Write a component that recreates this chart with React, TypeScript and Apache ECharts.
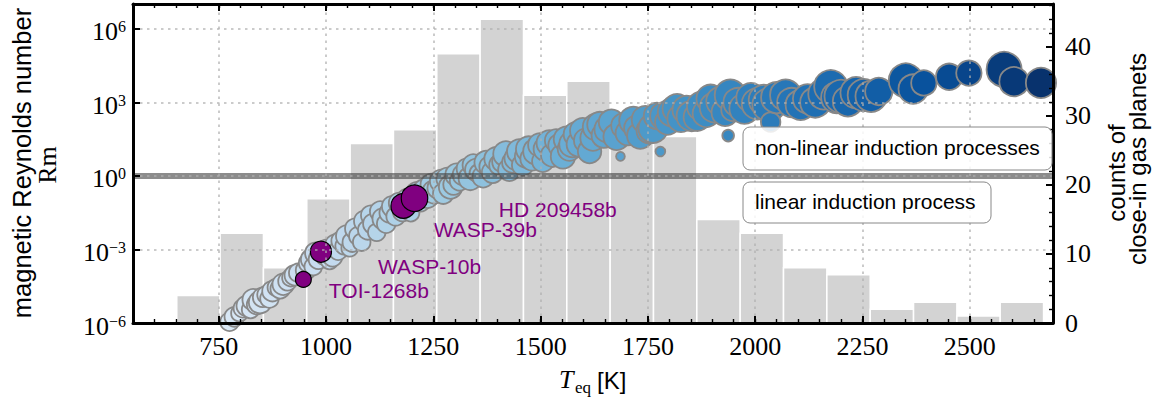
import React, { useEffect, useRef } from 'react';
import * as echarts from 'echarts';

// ---------- data ----------
// histogram of close-in gas planets (right axis)
const binEdges = [652, 753, 854, 955, 1056, 1157, 1258, 1359, 1460, 1561, 1662, 1763, 1864, 1965, 2066, 2167, 2268, 2369, 2470, 2571, 2672];
const binCounts = [4, 13, 8, 18, 26, 28, 39, 44, 33, 35, 29, 27, 15, 13, 8, 7, 2, 3, 1, 3];

// planets: [Teq (K), log10(Rm), radius (R_J)]
const planets: [number, number, number][] = [
  [775, -5.95, 0.95], [786, -5.75, 1.0], [798, -5.6, 0.85], [806, -5.4, 0.95], [815, -5.3, 1.05],
  [824, -5.45, 0.9], [830, -5.05, 1.1], [838, -5.25, 1.0], [846, -5.15, 1.15], [852, -4.95, 1.0],
  [860, -4.85, 0.9], [868, -5.0, 0.95], [875, -4.7, 1.05], [884, -4.55, 0.9], [893, -4.6, 1.0],
  [900, -4.42, 1.1], [910, -4.3, 0.95], [918, -4.15, 0.9], [927, -4.05, 1.05], [935, -3.95, 0.95],
  [952, -3.85, 1.0], [958, -3.55, 0.95], [965, -3.4, 1.05], [970, -3.7, 0.9], [976, -3.15, 1.1],
  [982, -3.4, 1.0], [996, -3.25, 0.95], [1002, -3.05, 1.15], [1008, -3.45, 0.9], [1015, -3.3, 1.0],
  [1022, -2.8, 1.05], [1028, -3.05, 0.95], [1035, -2.65, 1.0], [1042, -2.85, 0.9], [1048, -2.45, 1.1],
  [1055, -2.95, 0.85], [1061, -2.7, 1.0], [1068, -2.15, 1.05], [1075, -2.45, 0.95], [1083, -2.7, 0.9],
  [1090, -1.85, 1.1], [1097, -2.2, 1.0], [1104, -1.6, 1.0], [1110, -1.95, 1.05], [1118, -2.3, 0.9],
  [1126, -1.45, 1.05], [1133, -1.75, 1.1], [1140, -1.95, 0.95], [1147, -1.5, 1.0], [1155, -1.25, 1.1],
  [1162, -1.65, 0.95], [1170, -1.1, 1.05], [1178, -1.45, 1.0], [1190, -0.95, 1.1], [1197, -1.5, 0.9],
  [1212, -0.7, 1.15], [1220, -1.05, 1.0], [1228, -0.55, 1.05], [1236, -0.85, 1.15], [1245, -0.35, 1.1],
  [1252, -0.65, 1.2], [1260, -0.5, 1.05], [1268, -0.2, 1.15], [1273, -0.72, 1.05], [1282, -0.1, 1.1],
  [1290, -0.45, 1.2], [1297, -0.35, 1.05], [1304, 0.05, 1.15], [1311, -0.2, 1.0], [1320, 0.05, 1.1],
  [1328, 0.3, 1.05], [1336, -0.1, 1.2], [1343, 0.45, 1.1], [1350, 0.25, 1.15], [1357, 0.1, 1.0],
  [1366, -0.03, 1.1], [1373, 0.55, 1.2], [1381, 0.38, 1.05], [1388, 0.15, 1.1], [1396, 0.7, 1.2],
  [1404, 0.45, 1.05], [1412, 0.58, 1.1], [1419, 0.9, 1.3], [1427, 0.25, 1.15], [1434, 0.55, 1.05],
  [1443, 0.72, 1.2], [1450, 1.0, 1.25], [1458, 0.45, 1.1], [1466, 0.8, 1.15], [1472, 1.1, 1.3],
  [1480, 0.7, 1.2], [1490, 1.0, 1.35], [1498, 1.27, 1.2], [1505, 0.6, 1.1], [1512, 1.1, 1.25],
  [1520, 1.35, 1.3], [1528, 0.85, 1.2], [1536, 1.45, 1.15], [1545, 1.25, 1.2], [1552, 0.8, 1.25],
  [1560, 1.5, 1.3], [1567, 1.1, 1.2], [1574, 1.3, 1.35], [1582, 1.7, 1.25], [1590, 1.3, 1.3],
  [1598, 1.85, 1.3], [1606, 1.45, 1.25], [1614, 1.0, 1.2], [1622, 1.55, 1.3], [1630, 2.0, 1.4],
  [1638, 2.1, 1.3], [1647, 1.65, 1.25], [1656, 1.9, 1.35], [1665, 2.2, 1.3], [1677, 1.6, 1.35],
  [1686, 0.8, 0.45], [1694, 2.05, 1.3], [1703, 1.75, 1.25], [1716, 2.25, 1.45], [1724, 1.95, 1.3],
  [1732, 1.65, 1.35], [1744, 2.3, 1.4], [1753, 1.85, 1.3], [1762, 1.95, 1.5], [1771, 2.45, 1.35],
  [1779, 1.0, 0.5], [1787, 2.45, 1.4], [1796, 2.2, 1.3], [1806, 2.6, 1.45], [1818, 2.75, 1.5],
  [1827, 2.35, 1.4], [1840, 2.7, 1.45], [1852, 2.45, 1.55], [1865, 2.4, 1.4], [1875, 2.85, 1.5],
  [1886, 2.55, 1.4], [1896, 3.15, 1.45], [1906, 2.8, 1.55], [1920, 3.05, 1.5], [1930, 2.6, 1.4],
  [1937, 1.65, 0.6], [1942, 3.3, 1.6], [1947, 2.7, 1.15], [1960, 3.0, 1.5], [1975, 2.75, 1.55],
  [1990, 3.2, 1.5], [2005, 2.95, 1.6], [2020, 3.1, 1.55], [2032, 2.9, 1.7], [2036, 2.2, 1.0],
  [2050, 3.2, 1.6], [2071, 3.3, 1.6], [2085, 3.0, 1.5], [2106, 2.9, 1.55], [2122, 3.15, 1.5],
  [2140, 3.0, 1.55], [2160, 3.35, 1.6], [2176, 3.65, 1.7], [2190, 3.2, 1.6], [2200, 3.25, 1.7],
  [2216, 3.05, 1.55], [2235, 3.4, 1.6], [2253, 3.3, 1.65], [2270, 3.25, 1.6], [2288, 3.45, 1.4],
  [2351, 3.9, 1.75], [2368, 3.55, 1.5], [2393, 3.8, 1.3], [2452, 4.05, 1.35], [2498, 4.2, 1.3],
  [2580, 4.35, 1.8], [2603, 3.85, 1.5], [2666, 3.8, 1.55],
];

// highlighted planets
const hlNames = ['TOI-1268b', 'WASP-10b', 'WASP-39b', 'HD 209458b'];
const hlTeq = [947, 988, 1180, 1206];
const hlLog10Rm = [-4.22, -3.09, -1.22, -0.91];
const hlRadius = [0.81, 1.08, 1.27, 1.36];

// ticks
const xTicks = [750, 1000, 1250, 1500, 1750, 2000, 2250, 2500];
const yGridExponents = [-3, 0, 3, 6];
const X_MIN = 550;
const X_MAX = 2694;
const Y_MIN = -6;
const Y_MAX = 7.02;
const C_MAX = 46.2;
const RM_THRESHOLD_LOG = 0;

const BLUES = ['#f7fbff', '#deebf7', '#c6dbef', '#9ecae1', '#6baed6', '#4292c6', '#2171b5', '#08519c', '#08306b'];

const SERIF = '"Liberation Serif", "Times New Roman", serif';
const SANS = '"Liberation Sans", Arial, sans-serif';
const PX_PER_RJ = 19.5;

const spine = { show: true, onZero: false, lineStyle: { color: '#000', width: 3 } };
const majorTick = { show: true, inside: true, length: 7, lineStyle: { color: '#000', width: 2 } };
const minorTickStyle = { show: true, inside: true, length: 4, lineStyle: { color: '#000', width: 1.4 } };

function buildOption(): any {
  const labelOffsets = [[17, 11], [46, 14.5], [17.5, 24], [70.5, 11.7]];
  return {
    animation: false,
    backgroundColor: '#ffffff',
    grid: { left: 133, right: 102, top: 4, bottom: 78, containLabel: false },
    xAxis: [
      {
        type: 'value', position: 'bottom', min: X_MIN, max: X_MAX, z: 6,
        axisLine: spine,
        axisTick: { ...majorTick, customValues: xTicks },
        axisLabel: { customValues: xTicks, margin: 10, color: '#000', fontSize: 26, fontFamily: SERIF, formatter: (v: number) => String(v) },
        splitLine: { show: false },
      },
      {
        type: 'value', position: 'bottom', min: X_MIN, max: X_MAX, interval: 50, z: 6,
        axisLine: { show: false, onZero: false },
        axisTick: minorTickStyle,
        axisLabel: { show: false },
        splitLine: { show: false },
      },
      {
        type: 'value', position: 'top', min: X_MIN, max: X_MAX, z: 6,
        axisLine: spine,
        axisTick: { ...majorTick, customValues: xTicks },
        axisLabel: { show: false, customValues: xTicks },
        splitLine: { show: false },
      },
      {
        type: 'value', position: 'top', min: X_MIN, max: X_MAX, interval: 50, z: 6,
        axisLine: { show: false, onZero: false },
        axisTick: minorTickStyle,
        axisLabel: { show: false },
        splitLine: { show: false },
      },
    ],
    yAxis: [
      {
        type: 'value', position: 'left', min: Y_MIN, max: Y_MAX, interval: 3, z: 6,
        axisLine: spine,
        axisTick: majorTick,
        axisLabel: {
          showMaxLabel: false,
          margin: 7,
          padding: [6, 0, 0, 0],
          formatter: (v: number) => `{b|10}{e|${v < 0 ? '\u2212' + Math.abs(v) : v}}`,
          rich: {
            b: { fontSize: 26, lineHeight: 26, fontFamily: SERIF, color: '#000' },
            e: { fontSize: 16, lineHeight: 16, fontFamily: SERIF, color: '#000', verticalAlign: 'top' },
          },
        },
        splitLine: { show: false },
      },
      {
        type: 'value', position: 'right', min: 0, max: C_MAX, interval: 10, z: 6,
        axisLine: spine,
        axisTick: majorTick,
        minorTick: { show: true, splitNumber: 5, length: 4, lineStyle: { color: '#000', width: 1.4 } },
        axisLabel: { showMaxLabel: false, margin: 12, padding: [6, 0, 0, 0], color: '#000', fontSize: 26, fontFamily: SERIF },
        splitLine: { show: false },
      },
    ],
    visualMap: {
      type: 'continuous', show: false, seriesIndex: 2, dimension: 0,
      min: 440, max: 2680, inRange: { color: BLUES },
    },
    series: [
      {
        type: 'custom', xAxisIndex: 0, yAxisIndex: 1, z: 1, silent: true,
        data: binCounts.map((c, i) => [binEdges[i], binEdges[i + 1], c]),
        encode: { x: [0, 1], y: 2 },
        renderItem: (_p: any, api: any) => {
          const a = api.coord([api.value(0), api.value(2)]);
          const b = api.coord([api.value(1), 0]);
          return {
            type: 'rect',
            shape: { x: a[0], y: a[1], width: b[0] - a[0], height: b[1] - a[1] },
            style: { fill: '#d3d3d3', stroke: '#ffffff', lineWidth: 1.5 },
          };
        },
      },
      {
        type: 'line', xAxisIndex: 0, yAxisIndex: 0, z: 2, data: [], silent: true,
        markLine: {
          silent: true, symbol: 'none', label: { show: false },
          lineStyle: { color: 'rgba(70,70,70,0.62)', width: 6, type: 'solid' },
          emphasis: { disabled: true },
          data: [{ yAxis: RM_THRESHOLD_LOG }],
        },
      },
      {
        type: 'scatter', xAxisIndex: 0, yAxisIndex: 0, z: 3, silent: true,
        data: planets,
        symbolSize: (v: number[]) => v[2] * PX_PER_RJ,
        itemStyle: { borderColor: '#888888', borderWidth: 1.8, opacity: 1 },
      },
      {
        type: 'scatter', xAxisIndex: 0, yAxisIndex: 0, z: 4, silent: true,
        data: hlNames.map((n, i) => ({
          name: n,
          value: [hlTeq[i], hlLog10Rm[i], hlRadius[i]],
          label: { offset: labelOffsets[i] },
        })),
        symbolSize: (v: number[]) => v[2] * PX_PER_RJ,
        itemStyle: { color: '#800080', borderColor: '#000000', borderWidth: 1.2, opacity: 1 },
        label: {
          show: true, position: 'right', distance: 0, formatter: '{b}',
          color: '#800080', fontSize: 21, fontFamily: SANS,
        },
      },
      {
        // dotted grid drawn above the markers, as in the reference
        type: 'line', xAxisIndex: 0, yAxisIndex: 0, z: 5, data: [], silent: true,
        markLine: {
          silent: true, symbol: 'none', label: { show: false },
          lineStyle: { color: 'rgba(175,175,175,0.65)', width: 2, type: [2.5, 4.5] },
          emphasis: { disabled: true },
          data: [
            ...xTicks.map((v) => ({ xAxis: v })),
            ...yGridExponents.map((v) => ({ yAxis: v })),
          ],
        },
      },
    ],
    graphic: [
      // annotation boxes
      { type: 'rect', z: 100, shape: { x: 743, y: 127, width: 309, height: 43, r: 7 },
        style: { fill: 'rgba(255,255,255,0.85)', stroke: '#888888', lineWidth: 1 } },
      { type: 'text', z: 101, x: 755, y: 147, style: { text: 'non-linear induction processes', fontSize: 21, fontFamily: SANS, fill: '#000', align: 'left', verticalAlign: 'middle' } },
      { type: 'rect', z: 100, shape: { x: 743, y: 182, width: 248, height: 41, r: 7 },
        style: { fill: 'rgba(255,255,255,0.85)', stroke: '#888888', lineWidth: 1 } },
      { type: 'text', z: 101, x: 755, y: 201, style: { text: 'linear induction process', fontSize: 21, fontFamily: SANS, fill: '#000', align: 'left', verticalAlign: 'middle' } },
      // left axis title
      { type: 'text', z: 101, x: 22, y: 163, rotation: Math.PI / 2, style: { text: 'magnetic Reynolds number', fontSize: 25.5, fontFamily: SANS, fill: '#000', align: 'center', verticalAlign: 'middle' } },
      { type: 'text', z: 101, x: 47, y: 165, rotation: Math.PI / 2, style: { text: 'Rm', fontSize: 26, fontFamily: SERIF, fill: '#000', align: 'center', verticalAlign: 'middle' } },
      // right axis title
      { type: 'text', z: 101, x: 1116, y: 173, rotation: Math.PI / 2, style: { text: 'counts of', fontSize: 24, fontFamily: SANS, fill: '#000', align: 'center', verticalAlign: 'middle' } },
      { type: 'text', z: 101, x: 1137, y: 159, rotation: Math.PI / 2, style: { text: 'close-in gas planets', fontSize: 24, fontFamily: SANS, fill: '#000', align: 'center', verticalAlign: 'middle' } },
      // x axis title
      { type: 'text', z: 101, x: 559, y: 379, style: { text: 'T', fontSize: 26, fontStyle: 'italic', fontFamily: SERIF, fill: '#000', align: 'left', verticalAlign: 'middle' } },
      { type: 'text', z: 101, x: 575, y: 387, style: { text: 'eq', fontSize: 17, fontFamily: SERIF, fill: '#000', align: 'left', verticalAlign: 'middle' } },
      { type: 'text', z: 101, x: 597, y: 380, style: { text: '[K]', fontSize: 24, fontFamily: SANS, fill: '#000', align: 'left', verticalAlign: 'middle' } },
    ],
  };
}

export default function App() {
  const ref = useRef<HTMLDivElement>(null);
  useEffect(() => {
    if (!ref.current) return;
    const chart = echarts.init(ref.current, null, { renderer: 'svg' });
    chart.setOption(buildOption());
    return () => chart.dispose();
  }, []);
  return (
    <div
      ref={ref}
      style={{ position: 'fixed', left: 0, top: 0, width: 1155, height: 401, background: '#ffffff' }}
    />
  );
}
